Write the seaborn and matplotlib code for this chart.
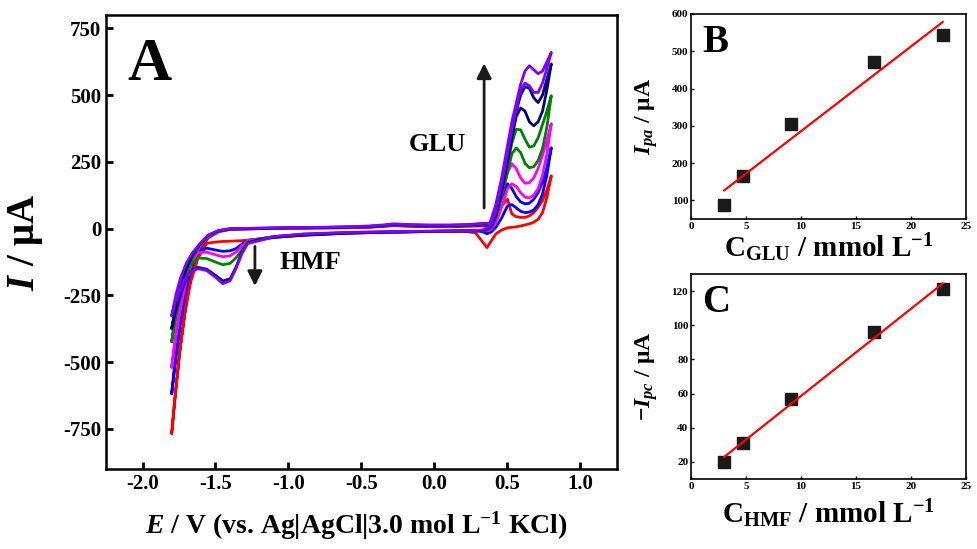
import numpy as np
import pandas as pd
import matplotlib
matplotlib.use("Agg")
import matplotlib.pyplot as plt
import seaborn as sns

# --- CV curves (panel A) ---
E_up = [-1.80, -1.77, -1.74, -1.70, -1.66, -1.61, -1.55, -1.48, -1.40,
        -1.20, -1.00, -0.80, -0.60, -0.45, -0.35, -0.28, -0.20, -0.05, 0.10, 0.25, 0.33,
        0.38, 0.42, 0.46, 0.50, 0.53, 0.56, 0.59, 0.62, 0.65, 0.68, 0.71, 0.74, 0.77, 0.80]
E_down = [0.80, 0.77, 0.74, 0.71, 0.68, 0.65, 0.62, 0.59, 0.56, 0.53, 0.50, 0.46, 0.42,
          0.39, 0.36, 0.33, 0.28, 0.20,
          0.00, -0.30, -0.60, -0.90, -1.10,
          -1.20, -1.28, -1.32, -1.36, -1.40, -1.45, -1.50, -1.56, -1.62, -1.67, -1.71,
          -1.75, -1.78, -1.80]

red_up = [-767, -600, -440, -270, -160, -85, -35, -12, -3,
          0, 1, 2, 3, 5, 8, 11, 9, 7, 7, 9, 10,
          5, 40, 85, 110, 55, 45, 42, 42, 48, 60, 80, 105, 145, 198]
red_down = [198, 116, 60, 35, 24, 18, 14, 10, 7, 5, 3, -5, -20, -45, -71, -50, -15, -10,
            -11, -13, -16, -22, -30,
            -40, -43, -45, -46, -47, -48, -50, -55, -110, -200, -320, -480, -640, -767]

blue_up = [-618, -480, -350, -220, -135, -75, -30, -10, -2,
           0, 2, 3, 4, 6, 10, 13, 11, 9, 9, 11, 14,
           10, 50, 115, 168, 150, 120, 100, 93, 95, 110, 135, 175, 230, 303]
blue_down = [303, 200, 130, 90, 70, 62, 60, 65, 78, 90, 85, 40, 5, -12, -19, -12, -8, -8,
             -10, -13, -17, -24, -32,
             -38, -44, -58, -75, -83, -85, -80, -73, -90, -150, -240, -380, -510, -618]

magenta_up = [-519, -400, -300, -195, -125, -70, -30, -10, -2,
              1, 2, 4, 5, 7, 11, 14, 12, 10, 10, 12, 16,
              12, 60, 135, 210, 243, 225, 190, 170, 172, 190, 225, 275, 330, 393]
magenta_down = [393, 280, 200, 150, 125, 115, 118, 135, 158, 168, 150, 80, 20, -2, -8, -8, -8, -9,
                -10, -13, -16, -22, -30,
                -38, -45, -65, -88, -102, -105, -98, -88, -90, -130, -200, -320, -430, -519]

green_up = [-423, -320, -245, -165, -110, -65, -28, -9, -2,
            1, 3, 4, 6, 8, 12, 15, 13, 11, 11, 13, 17,
            14, 65, 150, 240, 320, 372, 370, 335, 305, 310, 340, 390, 440, 498]
green_down = [498, 380, 300, 255, 232, 228, 245, 285, 302, 280, 210, 120, 40, 5, -5, -8, -8, -9,
              -10, -12, -15, -21, -30,
              -40, -50, -80, -110, -130, -135, -125, -112, -110, -135, -180, -270, -350, -423]

navy_up = [-374, -285, -215, -150, -100, -60, -25, -8, -1,
           1, 3, 4, 6, 8, 12, 16, 14, 12, 12, 14, 18,
           15, 75, 170, 280, 370, 440, 500, 532, 525, 490, 472, 500, 560, 617]
navy_down = [617, 520, 440, 400, 385, 400, 440, 452, 420, 340, 250, 140, 50, 10, -3, -6, -8, -9,
             -10, -13, -17, -25, -33,
             -42, -54, -90, -145, -188, -196, -175, -152, -145, -160, -200, -265, -320, -374]

purple_up = [-326, -245, -185, -130, -92, -58, -24, -7, 0,
             2, 4, 5, 7, 10, 14, 18, 16, 14, 14, 16, 20,
             20, 90, 190, 310, 400, 470, 540, 590, 610, 595, 580, 590, 625, 660]
purple_down = [660, 600, 545, 510, 510, 535, 545, 520, 450, 370, 280, 165, 65, 15, 0, -5, -7, -8,
               -9, -11, -14, -20, -30,
               -45, -56, -95, -150, -195, -206, -182, -157, -150, -162, -190, -240, -285, -326]

curves = ["red", "blue", "magenta", "green", "navy", "purple"]
colors = {"red": "#ff0000", "blue": "#0000ff", "magenta": "#ff00ff",
          "green": "#008000", "navy": "#000080", "purple": "#8000ff"}
branches = {"red": (red_up, red_down), "blue": (blue_up, blue_down),
            "magenta": (magenta_up, magenta_down), "green": (green_up, green_down),
            "navy": (navy_up, navy_down), "purple": (purple_up, purple_down)}

# --- calibration data (panels B, C) ---
conc = [3.0, 4.7, 9.1, 16.6, 22.9]
ipa = [88, 165, 305, 470, 543]
ipc = [20, 31, 57, 96, 121]

rows = []
for c in curves:
    up, down = branches[c]
    for e, i in zip(E_up + E_down, up + down):
        rows.append((c, e, i))
cv = pd.DataFrame(rows, columns=["curve", "E", "I"])

sns.set_theme(style="ticks")
plt.rcParams["font.family"] = ["Liberation Serif", "DejaVu Serif"]
plt.rcParams["font.weight"] = "bold"
plt.rcParams["axes.unicode_minus"] = False
plt.rcParams["mathtext.fontset"] = "custom"
plt.rcParams["mathtext.rm"] = "Liberation Serif:bold"
plt.rcParams["mathtext.bf"] = "Liberation Serif:bold"
plt.rcParams["mathtext.it"] = "Liberation Serif:bold:italic"
for k in ["text.color", "axes.labelcolor", "xtick.color", "ytick.color", "axes.edgecolor"]:
    plt.rcParams[k] = "black"

fig = plt.figure(figsize=(9.77, 5.49), dpi=100)
axA = fig.add_axes([0.1085, 0.1457, 0.523, 0.827])
axB = fig.add_axes([0.7073, 0.601, 0.2814, 0.3735])
axC = fig.add_axes([0.7073, 0.1275, 0.2814, 0.3734])

# panel A
sns.lineplot(data=cv, x="E", y="I", hue="curve", hue_order=curves, palette=colors,
             sort=False, estimator=None, lw=2, legend=False, ax=axA)
axA.set_xlim(-2.25, 1.25)
axA.set_ylim(-900, 800)
axA.set_xticks([-2.0, -1.5, -1.0, -0.5, 0.0, 0.5, 1.0])
axA.set_xticklabels(["-2.0", "-1.5", "-1.0", "-0.5", "0.0", "0.5", "1.0"])
axA.set_yticks([-750, -500, -250, 0, 250, 500, 750])
axA.tick_params(direction="in", length=5, width=2, labelsize=15, top=False, right=False)
for s in axA.spines.values():
    s.set_linewidth(1.8)
    s.set_visible(True)
axA.set_xlabel(r"$E$ / V (vs. Ag|AgCl|3.0 mol L$^{-1}$ KCl)", fontsize=20, fontweight="bold")
axA.set_ylabel(r"$I$ / μA", fontsize=28, fontweight="bold")
axA.xaxis.set_label_coords(0.49, -0.09)
axA.yaxis.set_label_coords(-0.12, 0.5)
axA.text(0.086, 0.89, "A", transform=axA.transAxes, fontsize=44, fontweight="bold",
         ha="center", va="center")
axA.annotate("", xy=(0.34, 629), xytext=(0.34, 67),
             arrowprops=dict(arrowstyle="-|>", lw=2, color="k", mutation_scale=22))
axA.text(0.02, 314, "GLU", fontsize=19, fontweight="bold", ha="center", va="center")
axA.annotate("", xy=(-1.23, -225), xytext=(-1.23, -56),
             arrowprops=dict(arrowstyle="-|>", lw=2, color="k", mutation_scale=22))
axA.text(-0.85, -127, "HMF", fontsize=19, fontweight="bold", ha="center", va="center")

# panels B and C
for ax, y, lim, ticks, lab, ylab, letter in [
        (axB, ipa, (50, 600), [100, 200, 300, 400, 500, 600],
         r"C$_{\mathrm{GLU}}$ / mmol L$^{-1}$", r"$I_{pa}$ / μA", "B"),
        (axC, ipc, (10, 130), [20, 40, 60, 80, 100, 120],
         r"C$_{\mathrm{HMF}}$ / mmol L$^{-1}$", r"$-I_{pc}$ / μA", "C")]:
    sns.regplot(x=conc, y=y, ci=None, marker="s", ax=ax,
                scatter_kws=dict(color="k", s=70, alpha=1, edgecolors="k", zorder=2),
                line_kws=dict(color="red", lw=1.6, zorder=3))
    ax.set_xlim(0, 25)
    ax.set_ylim(*lim)
    ax.set_xticks([0, 5, 10, 15, 20, 25])
    ax.set_yticks(ticks)
    ax.tick_params(direction="in", length=2, width=1, labelsize=8, pad=2)
    for s in ax.spines.values():
        s.set_linewidth(1.2)
    ax.set_xlabel(lab, fontsize=21, fontweight="bold")
    ax.set_ylabel(ylab, fontsize=17, fontweight="bold")
    ax.yaxis.set_label_coords(-0.113, 0.5)
    ax.text(0.09, 0.863, letter, transform=ax.transAxes, fontsize=28, fontweight="bold",
            ha="center", va="center")
axB.xaxis.set_label_coords(0.5, -0.06)
axC.xaxis.set_label_coords(0.5, -0.09)

fig.savefig("out.png", dpi=100)
